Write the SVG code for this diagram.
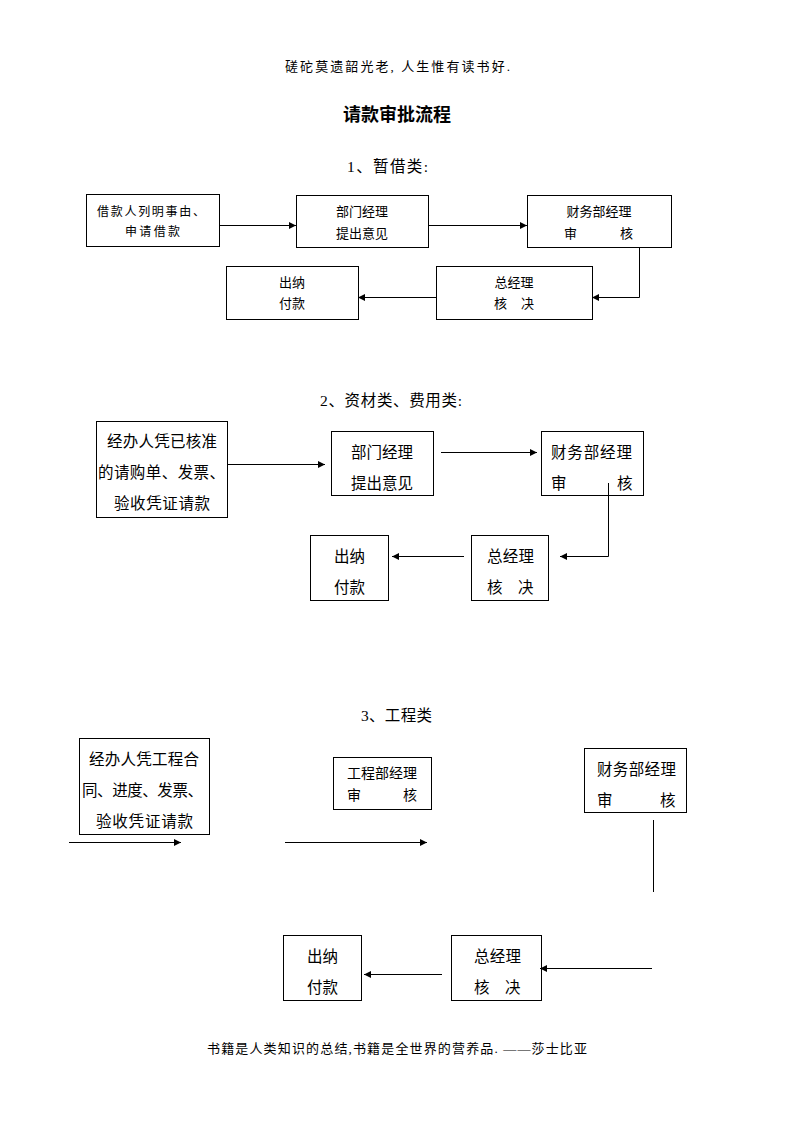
<svg xmlns="http://www.w3.org/2000/svg" width="793" height="1122" viewBox="0 0 793 1122">
<defs>
<style>
text{font-family:"Liberation Serif","Noto Sans CJK SC",serif;fill:#000;font-weight:normal}
.box{fill:#fff;stroke:#000;stroke-width:1}
.c{fill:none;stroke:#000;stroke-width:1}
.s12{font-size:12px}
.s13{font-size:13px}
.s14{font-size:14px}
.s15{font-size:15.5px}
.mid{text-anchor:middle}
</style>
<marker id="ah" viewBox="0 0 10 10" refX="10" refY="5" markerWidth="9" markerHeight="7" markerUnits="userSpaceOnUse" orient="auto">
<path d="M0,0 L10,5 L0,10 z" fill="#000"/>
</marker>
</defs>
<rect width="793" height="1122" fill="#fff"/>

<text class="s13" x="285" y="71" textLength="225" lengthAdjust="spacing">磋砣莫遗韶光老, 人生惟有读书好.</text>
<text x="397" y="121" class="mid" style="font-size:18px;font-weight:bold">请款审批流程</text>
<text class="s15" x="347" y="172" textLength="81" lengthAdjust="spacing">1、暂借类:</text>

<g id="s1-a"><rect class="box" x="86.5" y="194.5" width="133" height="52"/>
<text class="s12"><tspan x="97" y="216" textLength="108" lengthAdjust="spacing">借款人列明事由、</tspan><tspan x="125" y="236" textLength="55" lengthAdjust="spacing">申请借款</tspan></text></g>
<g id="s1-b"><rect class="box" x="296.5" y="195.5" width="132" height="52"/>
<text class="s13 mid"><tspan x="362" y="216">部门经理</tspan><tspan x="362" y="238">提出意见</tspan></text></g>
<g id="s1-c"><rect class="box" x="527.5" y="195.5" width="144" height="52"/>
<text class="s13"><tspan x="599" y="216" class="mid">财务部经理</tspan><tspan x="564" y="238">审</tspan><tspan x="620" y="238">核</tspan></text></g>
<g id="s1-d"><rect class="box" x="226.5" y="266.5" width="132" height="53"/>
<text class="s13 mid"><tspan x="292" y="287">出纳</tspan><tspan x="292" y="308">付款</tspan></text></g>
<g id="s1-e"><rect class="box" x="436.5" y="266.5" width="156" height="53"/>
<text class="s13"><tspan x="514" y="287" class="mid">总经理</tspan><tspan x="494" y="308">核</tspan><tspan x="521" y="308">决</tspan></text></g>

<text class="s15" x="320" y="406" textLength="142" lengthAdjust="spacing">2、资材类、费用类:</text>

<g id="s2-f"><rect class="box" x="96.5" y="421.5" width="131" height="96"/>
<text class="s15"><tspan x="107" y="447" textLength="110" lengthAdjust="spacing">经办人凭已核准</tspan><tspan x="98" y="478" textLength="127" lengthAdjust="spacing">的请购单、发票、</tspan><tspan x="114" y="509" textLength="96" lengthAdjust="spacing">验收凭证请款</tspan></text></g>
<g id="s2-g"><rect class="box" x="331.5" y="431.5" width="102" height="64"/>
<text class="s15 mid"><tspan x="382" y="458">部门经理</tspan><tspan x="382" y="489">提出意见</tspan></text></g>
<g id="s2-h"><rect class="box" x="541.5" y="431.5" width="102" height="64"/>
<text class="s15"><tspan x="551" y="458" textLength="81" lengthAdjust="spacing">财务部经理</tspan><tspan x="551" y="489">审</tspan><tspan x="617" y="489">核</tspan></text></g>
<g id="s2-i"><rect class="box" x="471.5" y="535.5" width="77" height="65"/>
<text class="s15"><tspan x="487" y="562" textLength="47" lengthAdjust="spacing">总经理</tspan><tspan x="487" y="593">核</tspan><tspan x="518" y="593">决</tspan></text></g>
<g id="s2-j"><rect class="box" x="310.5" y="535.5" width="78" height="65"/>
<text class="s15 mid"><tspan x="349.5" y="562">出纳</tspan><tspan x="349.5" y="593">付款</tspan></text></g>

<text class="s15" x="361" y="721" textLength="71" lengthAdjust="spacing">3、工程类</text>

<g id="s3-k"><rect class="box" x="79.5" y="738.5" width="130" height="96"/>
<text class="s15"><tspan x="89" y="765" textLength="110" lengthAdjust="spacing">经办人凭工程合</tspan><tspan x="82" y="796" textLength="121" lengthAdjust="spacing">同、进度、发票、</tspan><tspan x="96" y="827" textLength="97" lengthAdjust="spacing">验收凭证请款</tspan></text></g>
<g id="s3-l"><rect class="box" x="333.5" y="757.5" width="98" height="52"/>
<text class="s14"><tspan x="347" y="778" textLength="70" lengthAdjust="spacing">工程部经理</tspan><tspan x="347" y="800">审</tspan><tspan x="403" y="800">核</tspan></text></g>
<g id="s3-m"><rect class="box" x="584.5" y="748.5" width="102" height="64"/>
<text class="s15"><tspan x="597" y="775" textLength="79" lengthAdjust="spacing">财务部经理</tspan><tspan x="597" y="806">审</tspan><tspan x="660" y="806">核</tspan></text></g>
<g id="s3-n"><rect class="box" x="451.5" y="935.5" width="90" height="65"/>
<text class="s15"><tspan x="474" y="962" textLength="47" lengthAdjust="spacing">总经理</tspan><tspan x="474" y="993">核</tspan><tspan x="505" y="993">决</tspan></text></g>
<g id="s3-o"><rect class="box" x="283.5" y="935.5" width="78" height="65"/>
<text class="s15 mid"><tspan x="322.5" y="962">出纳</tspan><tspan x="322.5" y="993">付款</tspan></text></g>

<g id="connectors">
<line class="c" x1="219" y1="225.5" x2="296" y2="225.5" marker-end="url(#ah)"/>
<line class="c" x1="428" y1="225.5" x2="527" y2="225.5" marker-end="url(#ah)"/>
<polyline class="c" points="639.5,247 639.5,297.5 592,297.5" marker-end="url(#ah)"/>
<line class="c" x1="436" y1="297.5" x2="358" y2="297.5" marker-end="url(#ah)"/>

<line class="c" x1="227" y1="464.5" x2="325" y2="464.5" marker-end="url(#ah)"/>
<line class="c" x1="441" y1="452.5" x2="537" y2="452.5" marker-end="url(#ah)"/>
<polyline class="c" points="608.5,483 608.5,556.5 560,556.5" marker-end="url(#ah)"/>
<line class="c" x1="464" y1="556.5" x2="392" y2="556.5" marker-end="url(#ah)"/>

<line class="c" x1="69" y1="842.5" x2="181" y2="842.5" marker-end="url(#ah)"/>
<line class="c" x1="285" y1="842.5" x2="427" y2="842.5" marker-end="url(#ah)"/>
<line class="c" x1="653.5" y1="820" x2="653.5" y2="892"/>
<line class="c" x1="652" y1="968.5" x2="540" y2="968.5" marker-end="url(#ah)"/>
<line class="c" x1="442" y1="974.5" x2="364" y2="974.5" marker-end="url(#ah)"/>
</g>

<text class="s13" x="207" y="1053" textLength="380" lengthAdjust="spacing">书籍是人类知识的总结,书籍是全世界的营养品. ——莎士比亚</text>
</svg>
